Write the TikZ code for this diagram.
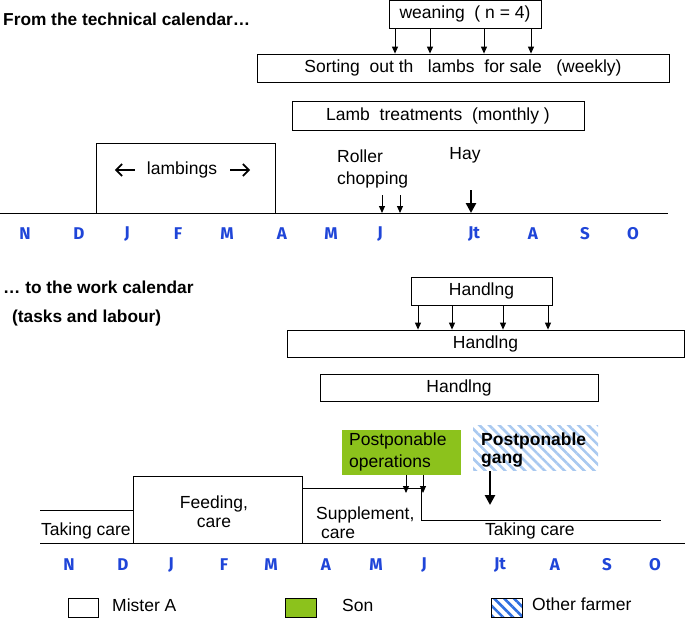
\documentclass[tikz,border=0pt]{standalone}
\usepackage{fontspec}
\setmainfont{Liberation Sans}
\newfontfamily\monthfont{Fira Sans}
\usetikzlibrary{arrows.meta,patterns.meta}
\definecolor{sonGreen}{HTML}{8CC21C}
\definecolor{hatchLight}{HTML}{A9C9F0}
\definecolor{hatchDark}{HTML}{2F6FE0}
\definecolor{monthBlue}{HTML}{1F45D8}
\begin{document}
\begin{tikzpicture}[x=1pt,y=-1pt,
  every node/.style={font=\fontsize{17.5}{20}\selectfont, inner sep=0pt},
  taskbox/.style={draw, line width=0.8pt, minimum height=28pt},
  arr/.style={-{Triangle[length=7pt,width=6pt]}, line width=1pt},
  bigarr/.style={-{Triangle[length=10pt,width=10pt]}, line width=2.8pt},
  month/.style={font=\monthfont\bfseries\fontsize{17}{18}\selectfont, text=monthBlue},
  title/.style={font=\bfseries\fontsize{17.3}{20}\selectfont, anchor=west},
  hatchfill/.style={pattern={Lines[angle=-45,distance=7pt,line width=2.6pt]}, pattern color=#1},
  prof/.style={line width=0.8pt}
]
\useasboundingbox (0,0) rectangle (685,619);

% ---------- upper part ----------
\node[title] (t1) at (3,19) {From the technical calendar\dots};

\node[taskbox, minimum width=152pt] (wean) at (465,14) {weaning\ \ ( n = 4)};
\node[taskbox, minimum width=412pt] (sort) at (463,68) {Sorting\ \ out th\ \ \ lambs\ \ for sale\ \ \ (weekly)};
\foreach \x in {395,430,484,531}
  \draw[arr] (wean.south -| \x,0) -- (sort.north -| \x,0);
\node[taskbox, minimum width=292pt, minimum height=29pt] (treat) at (438,116) {Lamb\ \ treatments\ \ (monthly )};

\node (lamb) at (182,170) {lambings};
\draw[line width=0.8pt] (96,213) |- (275,143) -- (275,213);
\draw[-{Straight Barb[length=6pt,width=12pt]}, line width=1.8pt] ([xshift=-12pt]lamb.west) -- ([xshift=-32pt]lamb.west);
\draw[-{Straight Barb[length=6pt,width=12pt]}, line width=1.8pt] ([xshift=13pt]lamb.east) -- ([xshift=33pt]lamb.east);

\node[anchor=north west, align=left, font=\fontsize{17.5}{22}\selectfont] (roller) at (337,150) {Roller\\chopping};
\foreach \x in {382,400}
  \draw[arr] (\x,195) -- (\x,213);
\node (hay) at (465,155) {Hay};
\draw[bigarr] (471,190) -- (471,213);

\draw[line width=0.8pt] (0,213) -- (668,213);
\foreach \m/\x in {N/25,D/79,J/127,F/178,M/227,A/282,M/331,J/380,Jt/474,A/533,S/585,O/633}
  \node[month] at (\x,234) {\m};

% ---------- lower part ----------
\node[title] (t2) at (3,287) {\dots\ to the work calendar};
\node[title] (t3) at (12,318) {(tasks and labour)};

\node[taskbox, minimum width=141pt] (h1) at (481.5,291) {Handlng};
\node[taskbox, minimum width=397pt, minimum height=27pt] (h2) at (485.5,343.5) {Handlng};
\foreach \x in {418,452,503,548}
  \draw[arr] (h1.south -| \x,0) -- (h2.north -| \x,0);
\node[taskbox, minimum width=278pt, minimum height=27pt] (h3) at (459,387.5) {Handlng};

\node[fill=sonGreen, minimum width=119pt, minimum height=45pt] (green) at (401.5,452.5) {};
\node[anchor=north west, align=left, font=\fontsize{17.5}{22}\selectfont] (gtext) at (349,433) {Postponable\\operations};
\foreach \x in {406,423}
  \draw[arr] (green.south -| \x,0) -- (\x,493);

\node[hatchfill=hatchLight, minimum width=125pt, minimum height=45pt] (gang) at (535.5,447.5) {};
\node[anchor=north west, align=left, font=\bfseries\fontsize{17.5}{18}\selectfont] (gangtext) at (481,433) {Postponable\\gang};
\draw[bigarr] (gang.south -| 490,0) -- (490,505);

% work profile
\draw[prof] (40,510) -- (133,510);
\draw[prof] (133,543) -- (133,476) -- (302,476) -- (302,543);
\draw[prof] (302,488) -- (421,488) -- (421,520) -- (661,520);
\draw[line width=0.8pt] (40,543) -- (685,543);

\node[anchor=west] (tc1) at (41,531) {Taking care};
\node[align=center, font=\fontsize{17.5}{19}\selectfont] (feed) at (214,512) {Feeding,\\care};
\node[anchor=north west, align=left, font=\fontsize{17.5}{19}\selectfont] (supp) at (316,507) {Supplement,\\\ care};
\node[anchor=west] (tc2) at (485,531) {Taking care};

\foreach \m/\x in {N/69,D/123,J/171,F/224,M/271,A/326,M/376,J/424,Jt/500,A/555,S/607,O/655}
  \node[month] at (\x,565) {\m};

% legend
\node[draw, line width=0.8pt, minimum width=30pt, minimum height=19pt] (lg1) at (83,608) {};
\node[anchor=west] at (112,605) {Mister A};
\node[draw, line width=0.8pt, fill=sonGreen, minimum width=31pt, minimum height=19pt] (lg2) at (300.5,608) {};
\node[anchor=west] at (342,605) {Son};
\node[draw, line width=0.8pt, hatchfill=hatchDark, minimum width=31pt, minimum height=19pt] (lg3) at (506.5,608) {};
\node[anchor=west] at (532,604) {Other farmer};
\end{tikzpicture}
\end{document}
